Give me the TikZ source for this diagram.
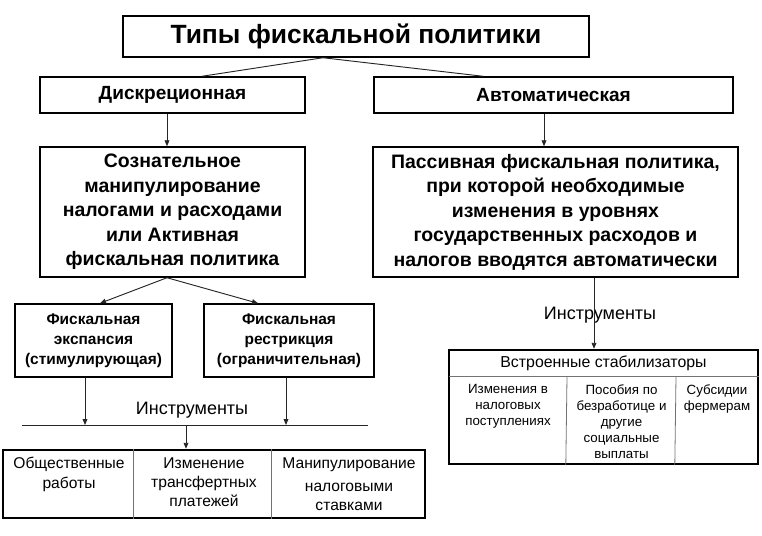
\documentclass[tikz,border=0pt]{standalone}
\usepackage{fontspec}
\setmainfont{Liberation Sans}
\usetikzlibrary{arrows.meta,calc}
\begin{document}
\begin{tikzpicture}[x=0.75pt,y=-0.75pt,
  box/.style={draw=black, line width=1.1pt, fill=white, inner sep=0pt, align=center},
  tbl/.style={draw=black, line width=1.8pt, inner sep=0pt},
  conn/.style={draw=black!85, line width=0.7pt},
  arr/.style={conn, -{Triangle[length=4.5pt,width=3.6pt]}},
  divline/.style={draw=black!55, line width=0.6pt},
  cell/.style={inner sep=0pt, align=center, anchor=north, font=\fontsize{11.7}{14.6}\selectfont},
  rcell/.style={inner sep=0pt, align=center, anchor=north, font=\fontsize{10}{12}\selectfont},
  lbl/.style={inner sep=0pt, font=\fontsize{13.5}{16}\selectfont}
]
\useasboundingbox (0,0) rectangle (762,535);

% top levels
\node[box, minimum width=349.5pt, minimum height=30.75pt, font=\bfseries\fontsize{19.8}{24}\selectfont] (title) at (356,36.5) {Типы фискальной политики};
\node[box, minimum width=198.75pt, minimum height=27pt, font=\bfseries\fontsize{14.3}{17}\selectfont] (diskr) at (172.5,95) {Дискреционная};
\node[box, minimum width=269.25pt, minimum height=27pt, font=\bfseries\fontsize{14.3}{17}\selectfont] (auto) at (553.5,95) {Автоматическая};

\node[box, minimum width=198.75pt, minimum height=97.5pt, font=\bfseries\fontsize{14.6}{18.4}\selectfont] (sozn) at (172.5,212)
  {Сознательное\\манипулирование\\налогами и расходами\\или Активная\\фискальная политика};
\node[box, minimum width=273.75pt, minimum height=97.5pt, font=\bfseries\fontsize{14.6}{18.4}\selectfont] (passive) at (555.5,212)
  {Пассивная фискальная политика,\\при которой необходимые\\изменения в уровнях\\государственных расходов и\\налогов вводятся автоматически};

\node[box, minimum width=117.75pt, minimum height=54.75pt, font=\bfseries\fontsize{11.6}{15}\selectfont] (exp) at (93.5,340.5)
  {Фискальная\\экспансия\\(стимулирующая)};
\node[box, minimum width=127.5pt, minimum height=54.75pt, font=\bfseries\fontsize{11.6}{15}\selectfont] (restr) at (289,340.5)
  {Фискальная\\рестрикция\\(ограничительная)};

% left instruments
\node[lbl] (instrL) at (192,410) {Инструменты};
\coordinate (lineL) at (22,425);
\coordinate (lineR) at (368,425);
\draw[conn] (lineL) -- (lineR);

\node[tbl, minimum width=316.5pt, minimum height=51pt] (ltab) at (214,484) {};
\draw[divline] ($(ltab.north west)+(132,0)$) -- ($(ltab.south west)+(132,0)$);
\draw[divline] ($(ltab.north west)+(270,0)$) -- ($(ltab.south west)+(270,0)$);
\node[cell] (c1) at (69,457) {Общественные\\работы};
\node[cell] (c2) at (204,457) {Изменение\\трансфертных\\платежей};
\node[cell] (c3) at (349,457) {Манипулирование\\[3pt]налоговыми\\ставками};

% right instruments
\node[lbl] (instrR) at (600,315) {Инструменты};
\node[tbl, minimum width=231.75pt, minimum height=85.5pt] (rtab) at (603.5,407) {};
\coordinate (hdrL) at (449,376);
\draw[divline] (hdrL) -- (hdrL -| rtab.east);
\draw[divline] ($(hdrL)+(118,0)$) -- ($(rtab.south west)+(118,0)$);
\draw[divline] ($(hdrL)+(227,0)$) -- ($(rtab.south west)+(227,0)$);
\node[inner sep=0pt, font=\fontsize{11.9}{14}\selectfont] (hdr) at (603.5,363) {Встроенные стабилизаторы};
\node[rcell] (r1) at (508,384) {Изменения в\\налоговых\\поступлениях};
\node[rcell] (r2) at (621.5,384) {Пособия по\\безработице и\\другие\\социальные\\выплаты};
\node[rcell] (r3) at (717,384) {Субсидии\\фермерам};

% connectors
\draw[conn] ($(title.south)+(-33,0)$) -- ($(diskr.north)+(29.5,0)$);
\draw[conn] ($(title.south)+(-33,0)$) -- ($(auto.north)+(-70.5,0)$);
\draw[arr] ($(diskr.south)+(-5.5,0)$) coordinate (d1) -- (d1 |- sozn.north);
\draw[arr] ($(auto.south)+(-9.5,0)$) coordinate (a1) -- (a1 |- passive.north);
\draw[arr] ($(sozn.south)+(-5.5,0)$) -- ($(exp.north)+(6.5,0)$);
\draw[arr] ($(sozn.south)+(-5.5,0)$) -- ($(restr.north)+(-31,0)$);
\draw[arr] ($(exp.south)+(-8.5,0)$) coordinate (e1) -- (e1 |- lineL);
\draw[arr] ($(restr.south)+(-3,0)$) coordinate (e2) -- (e2 |- lineL);
\coordinate (m1) at (186,425);
\draw[arr] (m1) -- (m1 |- ltab.north);
\draw[arr] ($(passive.south)+(38.5,0)$) coordinate (p1) -- (p1 |- rtab.north);
\end{tikzpicture}
\end{document}
